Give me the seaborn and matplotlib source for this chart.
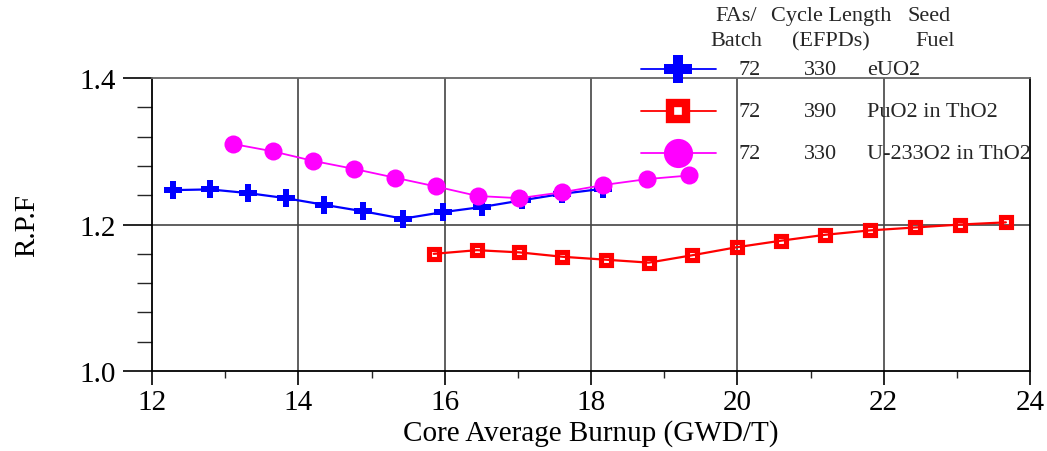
import matplotlib
matplotlib.use("Agg")
import matplotlib.pyplot as plt
from matplotlib.lines import Line2D
from matplotlib.ticker import MultipleLocator
import seaborn as sns
import pandas as pd

# Core average burnup (GWD/T) and radial power factor for each seed fuel
euo2_burnup = [12.28, 12.79, 13.31, 13.83, 14.35, 14.89, 15.43, 15.98, 16.51, 17.05, 17.61, 18.17]
euo2_rpf = [1.247, 1.248, 1.243, 1.236, 1.227, 1.218, 1.208, 1.217, 1.224, 1.233, 1.242, 1.249]

puo2_burnup = [15.85, 16.44, 17.02, 17.61, 18.20, 18.79, 19.38, 19.99, 20.60, 21.20, 21.81, 22.43, 23.04, 23.67]
puo2_rpf = [1.160, 1.165, 1.162, 1.156, 1.152, 1.148, 1.158, 1.169, 1.178, 1.186, 1.192, 1.196, 1.200, 1.203]

u233_burnup = [13.11, 13.65, 14.20, 14.76, 15.32, 15.88, 16.45, 17.02, 17.60, 18.17, 18.76, 19.34]
u233_rpf = [1.310, 1.300, 1.287, 1.276, 1.264, 1.252, 1.239, 1.236, 1.244, 1.254, 1.262, 1.267]

fas_per_batch = ["72", "72", "72"]
cycle_length = ["330", "390", "330"]
seed_fuel = ["eUO2", "PuO2 in ThO2", "U-233O2 in ThO2"]

x_ticks = [12, 14, 16, 18, 20, 22, 24]
y_ticks = [1.0, 1.2, 1.4]

sns.set_theme(style="white")
plt.rcParams["font.family"] = ["Liberation Serif", "DejaVu Serif"]

fig = plt.figure(figsize=(10.47, 4.52), dpi=100)
ax = fig.add_axes([0.1452, 0.177, 0.8386, 0.648])

styles = [
    dict(color="#0000ff", marker="P", markersize=13, markeredgewidth=0,
         lw=1.6),
    dict(color="#ff0000", marker="s", markersize=7.3, markerfacecolor="none",
         markeredgecolor="#ff0000", markeredgewidth=3.7, lw=1.6),
    dict(color="#ff00ff", marker="o", markersize=13, markeredgewidth=0,
         lw=1.3),
]
series = [(euo2_burnup, euo2_rpf), (puo2_burnup, puo2_rpf), (u233_burnup, u233_rpf)]

for (bx, by), st in zip(series, styles):
    df = pd.DataFrame({"burnup": bx, "rpf": by})
    sns.lineplot(data=df, x="burnup", y="rpf", ax=ax, sort=False,
                 estimator=None, zorder=3, **st)

ax.set_xlim(12, 24)
ax.set_ylim(1.0, 1.4)
ax.set_xticks(x_ticks)
ax.set_yticks(y_ticks)
ax.set_yticklabels([f"{v:.1f}" for v in y_ticks])
ax.xaxis.set_minor_locator(MultipleLocator(1))
ax.yaxis.set_minor_locator(MultipleLocator(0.04))

ax.tick_params(axis="both", which="major", labelsize=21, colors="black", direction="out")
ax.tick_params(axis="y", which="major", length=21, width=1.2, pad=5, left=True)
ax.tick_params(axis="y", which="minor", length=11, width=1.0, left=True)
ax.tick_params(axis="x", which="major", length=10, width=1.2, pad=3, bottom=True)
ax.tick_params(axis="x", which="minor", length=5, width=1.0, bottom=True)

# Grid: vertical lines at the inner even burnups, horizontal at 1.2
for gx in x_ticks[1:-1]:
    ax.axvline(gx, color="#444444", lw=1.2, zorder=1)
ax.axhline(1.2, color="#444444", lw=1.2, zorder=1)

for side in ["left", "right", "bottom"]:
    ax.spines[side].set_color("black")
    ax.spines[side].set_linewidth(1.3)
ax.spines["top"].set_color("#666666")
ax.spines["top"].set_linewidth(1.3)

ax.set_xlabel("Core Average Burnup (GWD/T)", fontsize=21, color="black", labelpad=3)
ax.set_ylabel("R.P.F", fontsize=21, color="black", labelpad=28)

# Table-style legend at the upper right
fs = 16
fig.text(0.703, 0.963, "FAs/", fontsize=fs, ha="center", va="center")
fig.text(0.703, 0.908, "Batch", fontsize=fs, ha="center", va="center")
fig.text(0.794, 0.963, "Cycle Length", fontsize=fs, ha="center", va="center")
fig.text(0.794, 0.908, "(EFPDs)", fontsize=fs, ha="center", va="center")
fig.text(0.887, 0.963, "Seed", fontsize=fs, ha="center", va="center")
fig.text(0.893, 0.908, "Fuel", fontsize=fs, ha="center", va="center")

legend_marks = [
    dict(color="#0000ff", marker="P", markersize=20, markeredgewidth=0),
    dict(color="#ff0000", marker="s", markersize=12, markerfacecolor="white",
         markeredgecolor="#ff0000", markeredgewidth=6),
    dict(color="#ff00ff", marker="o", markersize=21, markeredgewidth=0),
]
row_y = [0.845, 0.752, 0.659]
for yy, lm, fa, cl, sf in zip(row_y, legend_marks, fas_per_batch, cycle_length, seed_fuel):
    fig.add_artist(Line2D([0.612, 0.684], [yy, yy], transform=fig.transFigure,
                          color=lm["color"], lw=1.3))
    fig.add_artist(Line2D([0.648], [yy], transform=fig.transFigure, ls="none", **lm))
    fig.text(0.716, yy, fa, fontsize=fs, ha="center", va="center")
    fig.text(0.784, yy, cl, fontsize=fs, ha="center", va="center")
    fig.text(0.828, yy, sf, fontsize=fs, ha="left", va="center")

fig.savefig("out.png", dpi=100, facecolor="white")
